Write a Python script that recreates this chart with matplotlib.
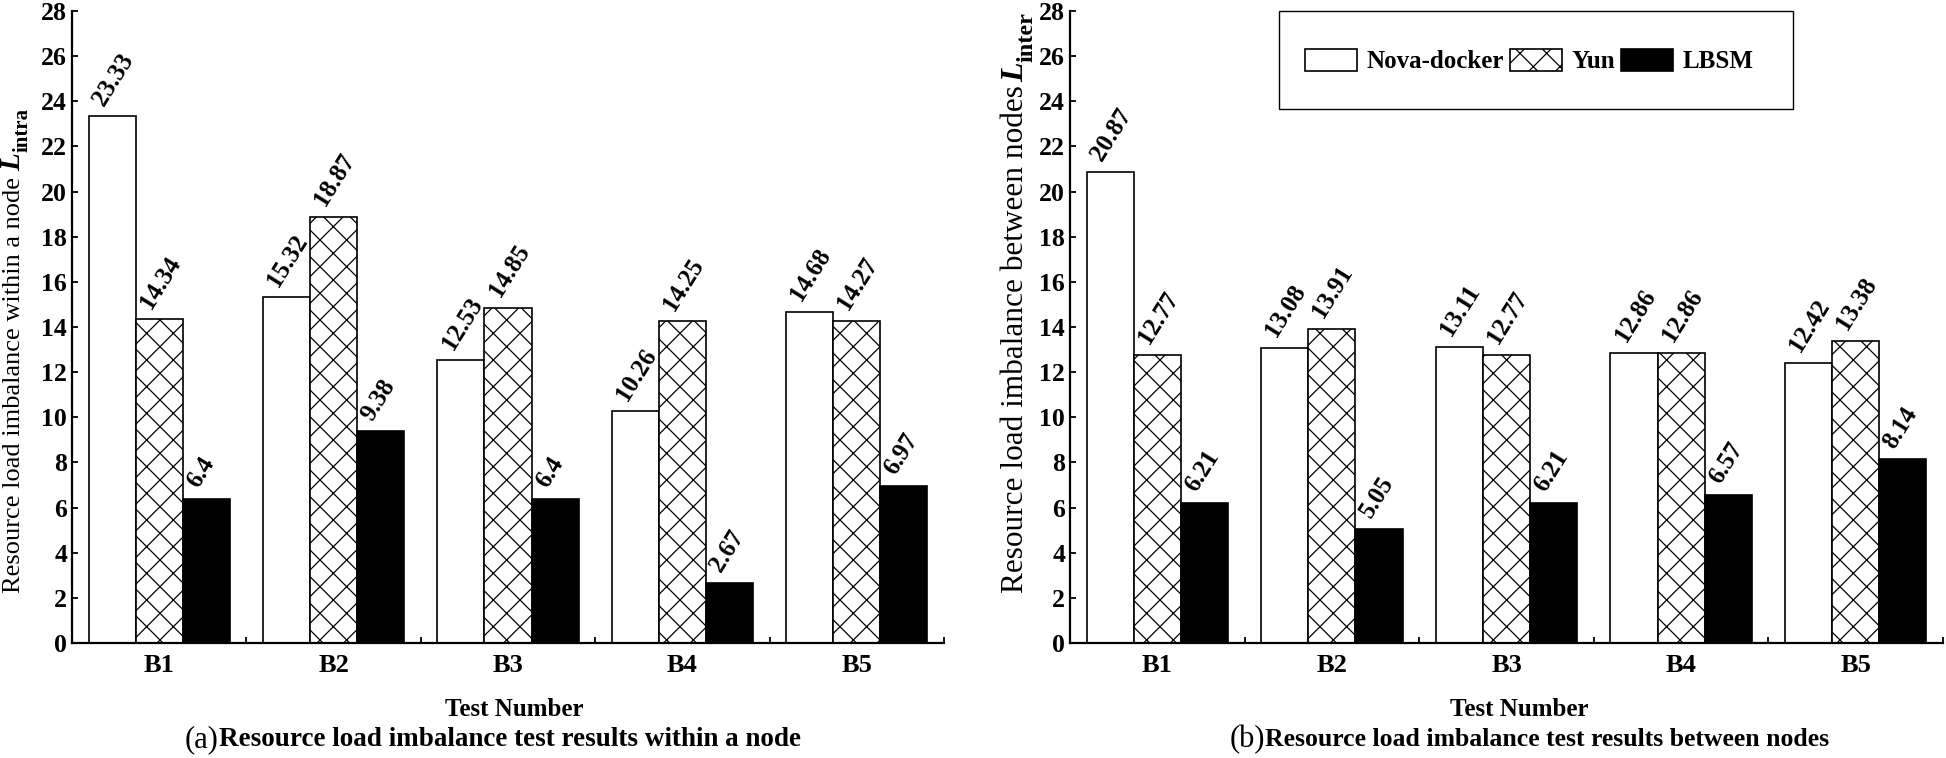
"""Resource load imbalance bar charts (intra-node / inter-node)"""
import matplotlib
matplotlib.use('Agg')
import matplotlib.pyplot as plt
from matplotlib.patches import Rectangle
import numpy as np

# data
tests = ['B1', 'B2', 'B3', 'B4', 'B5']
methods = ['Nova-docker', 'Yun', 'LBSM']

intra_nova = [23.33, 15.32, 12.53, 10.26, 14.68]
intra_yun = [14.34, 18.87, 14.85, 14.25, 14.27]
intra_lbsm = [6.4, 9.38, 6.4, 2.67, 6.97]

inter_nova = [20.87, 13.08, 13.11, 12.86, 12.42]
inter_yun = [12.77, 13.91, 12.77, 12.86, 13.38]
inter_lbsm = [6.21, 5.05, 6.21, 6.57, 8.14]

yticks = list(range(0, 29, 2))

# dpi 80 makes the cross hatch denser; K converts sizes picked at 100 dpi
DPI = 80
K = 100 / DPI

plt.rcParams['font.family'] = ['Liberation Serif', 'DejaVu Serif']
plt.rcParams['hatch.linewidth'] = 0.9 * K

W, H = 1946, 758
fig = plt.figure(figsize=(W / DPI, H / DPI), dpi=DPI)


def fx(px):
    return px / W


def fy(py):
    return 1 - py / H


ax1 = fig.add_axes([fx(72), fy(643), fx(944) - fx(72), fy(11) - fy(643)])
ax2 = fig.add_axes([fx(1070), fy(643), fx(1943) - fx(1070), fy(11) - fy(643)])

styles = [
    dict(facecolor='white', hatch=None),
    dict(facecolor='white', hatch='x'),
    dict(facecolor='black', hatch=None),
]
bar_w = 0.27


def draw_panel(ax, series):
    x = np.arange(1, len(tests) + 1)
    handles = []
    for k, (vals, st) in enumerate(zip(series, styles)):
        pos = x + (k - 1) * bar_w
        bars = ax.bar(pos, vals, width=bar_w, edgecolor='black', linewidth=1.2 * K,
                      label=methods[k], **st)
        handles.append(bars)
        for p, v in zip(pos, vals):
            ax.annotate(f'{v:g}', (p, v), xytext=(-3 * K, 5 * K), textcoords='offset points',
                        rotation=58, rotation_mode='anchor', ha='left', va='bottom',
                        fontsize=18 * K, fontweight='bold')
    ax.set_xlim(0.5, 5.5)
    ax.set_ylim(0, 28)
    ax.set_xticks(x)
    ax.set_xticklabels(tests, fontsize=19 * K, fontweight='bold')
    ax.set_xticks(np.arange(1.5, 5.6, 1.0), minor=True)
    ax.set_yticks(yticks)
    ax.set_yticklabels([str(t) for t in yticks], fontsize=18.5 * K, fontweight='bold')
    ax.tick_params(axis='x', which='major', length=0, pad=8 * K)
    ax.tick_params(axis='x', which='minor', direction='in', length=4 * K, width=1.3 * K)
    ax.tick_params(axis='y', direction='in', length=4 * K, width=1.3 * K, pad=3.5 * K)
    for s in ['top', 'right']:
        ax.spines[s].set_visible(False)
    for s in ['left', 'bottom']:
        ax.spines[s].set_linewidth(1.6 * K)
    return handles


draw_panel(ax1, [intra_nova, intra_yun, intra_lbsm])
handles = draw_panel(ax2, [inter_nova, inter_yun, inter_lbsm])

# rotated y labels built from pieces: plain text, italic L, bold subscript
renderer = fig.canvas.get_renderer()
inv = fig.transFigure.inverted()


def stacked_ylabel(x_px, y_px, parts):
    y = fy(y_px)
    for text, kw, dx_px, gap_px in parts:
        kw = dict(kw, fontsize=kw['fontsize'] * K)
        t = fig.text(fx(x_px + dx_px), y, text, rotation=90, rotation_mode='anchor',
                     ha='left', va='baseline', **kw)
        bb = t.get_window_extent(renderer)
        y = inv.transform((0, bb.y1 + gap_px / K))[1]


stacked_ylabel(20, 593, [
    ('Resource load imbalance within a node', dict(fontsize=19), 0, 8),
    ('L', dict(fontsize=21, fontweight='bold', fontstyle='italic'), 0, 1),
    ('intra', dict(fontsize=15, fontweight='bold'), 8, 0),
])
stacked_ylabel(1023, 593, [
    ('Resource load imbalance between nodes', dict(fontsize=22.5), 0, 4),
    ('L', dict(fontsize=23, fontweight='bold', fontstyle='italic'), 0, 1),
    ('inter', dict(fontsize=17.5, fontweight='bold'), 9, 0),
])

# x axis titles and captions
fig.text(fx(514), fy(710), 'Test Number', ha='center', va='center',
         fontsize=18 * K, fontweight='bold')
fig.text(fx(1519), fy(710), 'Test Number', ha='center', va='center',
         fontsize=18 * K, fontweight='bold')

fig.text(fx(219), fy(740), '(a)', ha='right', va='center', fontsize=22 * K)
fig.text(fx(219), fy(740), 'Resource load imbalance test results within a node',
         ha='left', va='center', fontsize=19.5 * K, fontweight='bold')
fig.text(fx(1265), fy(740), '(b)', ha='right', va='center', fontsize=22 * K)
fig.text(fx(1265), fy(740), 'Resource load imbalance test results between nodes',
         ha='left', va='center', fontsize=18.5 * K, fontweight='bold')

# legend with a square frame
fig.add_artist(Rectangle((fx(1279), fy(109)), fx(1793) - fx(1279), fy(11) - fy(109),
                         transform=fig.transFigure, fill=False, edgecolor='black',
                         linewidth=1.0 * K))
fig.legend(handles, methods, loc='center', bbox_to_anchor=(fx(1529), fy(61)),
           ncol=3, frameon=False, prop=dict(size=18 * K, weight='bold'),
           handlelength=2.1, handleheight=1.0, handletextpad=0.36,
           columnspacing=0.24, borderpad=0)

fig.savefig('out.png', dpi=DPI)
